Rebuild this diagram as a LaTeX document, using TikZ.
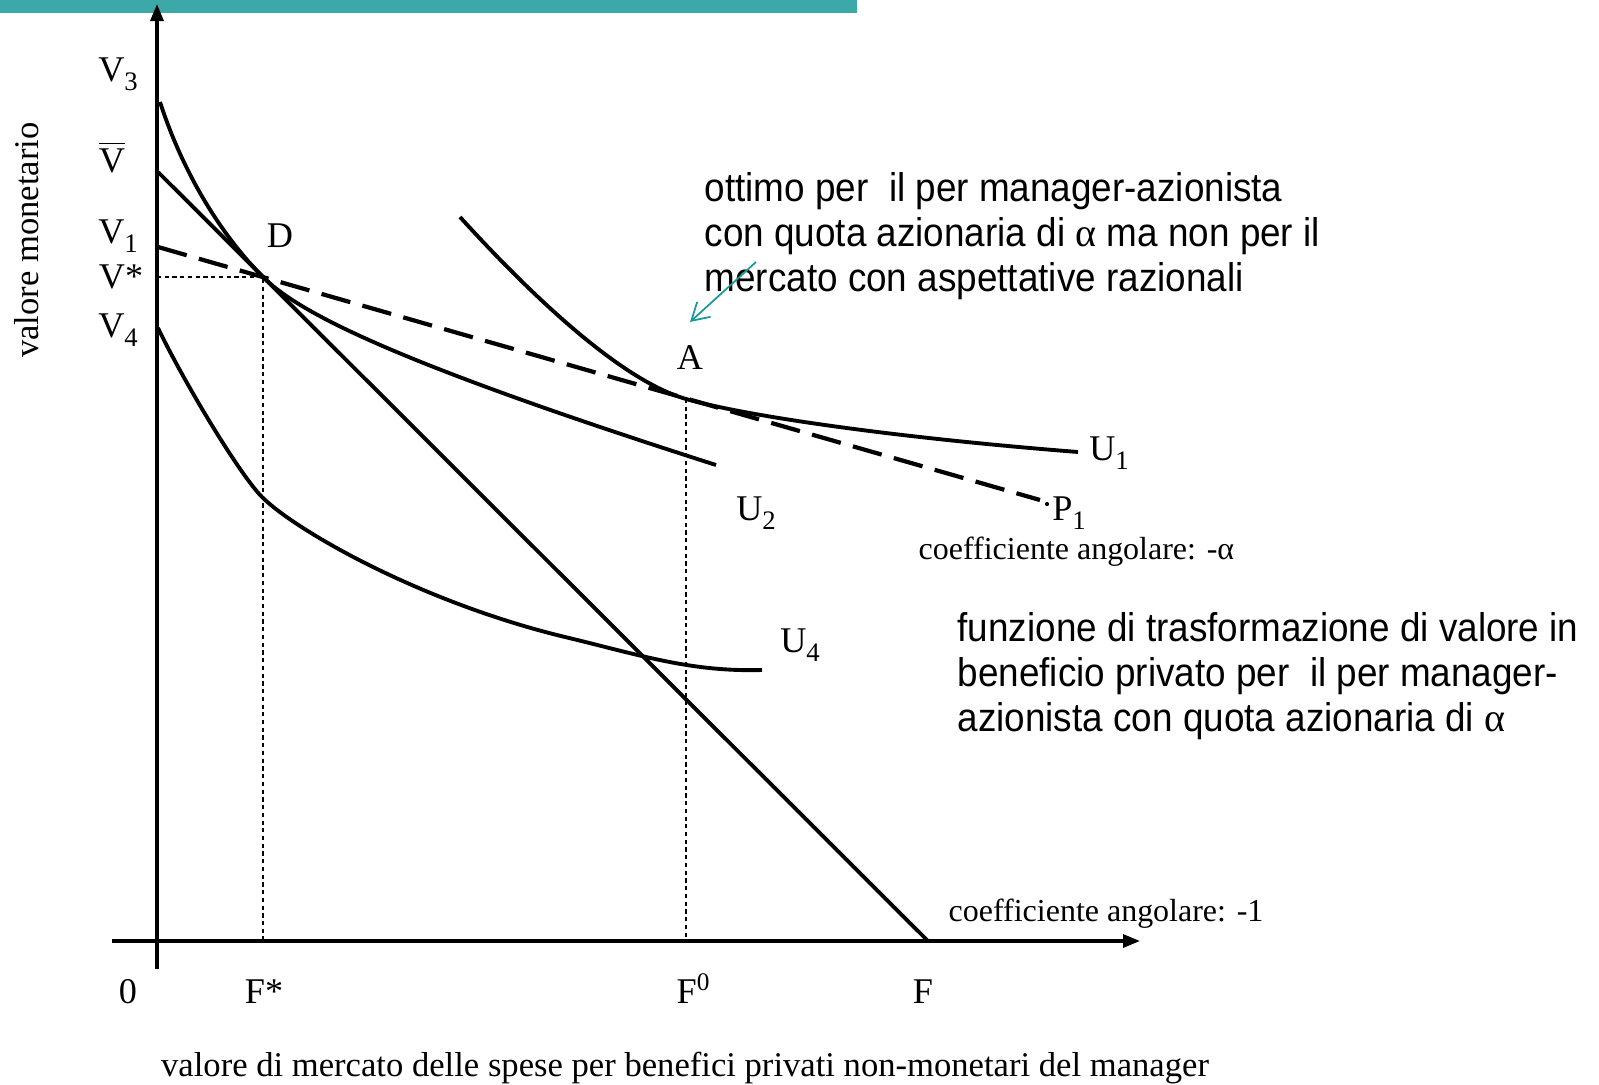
\documentclass[tikz,border=0pt]{standalone}
\usepackage{fontspec}
\setmainfont{Liberation Serif}
\newfontfamily\notefont[FakeStretch=0.92]{Liberation Sans}
\usetikzlibrary{arrows.meta}
\definecolor{bandteal}{RGB}{61,168,168}
\definecolor{pointerteal}{RGB}{26,153,153}
\newcommand\lowsub[1]{\raisebox{-0.25em}{\fontsize{7.6}{8}\selectfont #1}}
\tikzstyle{axisline}=[draw,line width=0.9pt,-{Triangle[length=1.7mm,width=1.3mm]}]
\tikzstyle{indiff}=[draw,line width=1.1pt]
\tikzstyle{budget}=[draw,line width=1.1pt]
\tikzstyle{privline}=[draw,line width=1.2pt,dash pattern=on 8.5pt off 3.6pt]
\tikzstyle{guide}=[draw,line width=0.4pt,dash pattern=on 1.2pt off 1pt]
\tikzstyle{pointer}=[draw=pointerteal,line width=0.5pt,-{Straight Barb[length=1.7mm,width=2mm]}]
\tikzstyle{ptlabel}=[font=\fontsize{10.3}{12}\selectfont,inner sep=0pt,anchor=base]
\tikzstyle{slopetext}=[font=\fontsize{9.1}{11}\selectfont,inner sep=0pt,anchor=base west]
\tikzstyle{captext}=[font=\fontsize{9.85}{12}\selectfont,inner sep=0pt,anchor=base]
\tikzstyle{notetext}=[font=\notefont\fontsize{11.4}{12.8}\selectfont,inner sep=0pt,anchor=north west,align=left]

\begin{document}
\begin{tikzpicture}
    \useasboundingbox (0,0) rectangle (15.99,10.84);
    % Header band
    \fill[bandteal] (0,10.715) rectangle (8.57,10.84);
    % First we place the reference points
    \coordinate (O) at (1.57,1.43);
    \coordinate (ybot) at (1.57,1.15);
    \coordinate (ytop) at (1.57,10.80);
    \coordinate (xleft) at (1.12,1.43);
    \coordinate (xright) at (11.40,1.43);
    \coordinate (D) at (2.63,8.07);
    \coordinate (A) at (6.86,6.85);
    \coordinate (vbar) at (1.58,9.12);
    \coordinate (fend) at (9.28,1.43);
    \coordinate (v1) at (1.58,8.37);
    \coordinate (p1) at (10.40,5.84);
    \coordinate (p1dot) at (10.47,5.80);
    % Axes
    \path[axisline] (ybot) -- (ytop);
    \path[axisline] (xleft) -- (xright);
    % Projections of D and A
    \path[guide] (O |- D) -- (D) -- (D |- O);
    \path[guide] (A) -- (A |- O);
    % Value lines: slope -1 and slope -alpha
    \path[budget] (vbar) -- (fend);
    \path[privline] (v1) -- (p1);
    \fill (p1dot) circle (0.6pt);
    % Indifference curves U2, U1, U4
    \path[indiff] (1.60,9.82) .. controls (1.85,9.05) and (2.25,8.45) .. (D)
        .. controls (3.0,7.70) and (4.0,7.2) .. (7.16,6.19);
    \path[indiff] (4.60,8.67) .. controls (5.3,7.9) and (6.2,7.04) .. (A)
        .. controls (7.5,6.67) and (9.0,6.46) .. (10.78,6.32);
    \path[indiff] (1.58,7.56) .. controls (1.85,7.0) and (2.40,6.09) .. (2.62,5.87)
        .. controls (2.95,5.54) and (4.2,4.82) .. (5.65,4.47)
        .. controls (6.4,4.29) and (6.9,4.12) .. (7.62,4.14);
    % Labels of the axes and points
    \foreach \pos/\name/\txt in {{(1.18,10.03)/v3lab/V\lowsub{3}}, {(1.12,9.12)/vbarlab/$\overline{\mbox{V}}$},
        {(1.18,8.41)/v1lab/V\lowsub{1}}, {(1.21,7.96)/vstarlab/V*}, {(1.18,7.47)/v4lab/V\lowsub{4}},
        {(2.80,8.37)/dlab/D}, {(6.90,7.15)/alab/A}, {(11.09,6.24)/u1lab/U\lowsub{1}},
        {(7.56,5.64)/u2lab/U\lowsub{2}}, {(8.00,4.32)/u4lab/U\lowsub{4}}, {(10.69,5.64)/p1lab/P\lowsub{1}},
        {(1.28,0.81)/olab/0}, {(2.64,0.81)/fstarlab/F*}, {(6.94,0.81)/f0lab/F\textsuperscript{0}}, {(9.23,0.81)/flab/F}}
        \node[ptlabel] (\name) at \pos {\txt};
    \node[slopetext] (alphaslope) at (9.18,5.25) {coefficiente angolare: -α};
    \node[slopetext] (oneslope) at (9.48,1.63) {coefficiente angolare: -1};
    \node[captext] (xtitle) at (6.85,0.08) {valore di mercato delle spese per benefici privati non-monetari del manager};
    \node[captext,rotate=90] (ytitle) at (0.38,8.44) {valore monetario};
    % Notes
    \node[notetext] (optnote) at (7.04,9.12) {ottimo per\ \ il per manager-azionista\\con quota azionaria di {\rmfamily α} ma non per il\\mercato con aspettative razionali};
    \node[notetext] (transnote) at (9.57,4.72) {funzione di trasformazione di valore in\\beneficio privato per\ \ il per manager-\\azionista con quota azionaria di {\rmfamily α}};
    \coordinate (ptail) at (7.56,8.22);
    \coordinate (phead) at (6.90,7.62);
    \path[pointer] (ptail) -- (phead);
\end{tikzpicture}
\end{document}
